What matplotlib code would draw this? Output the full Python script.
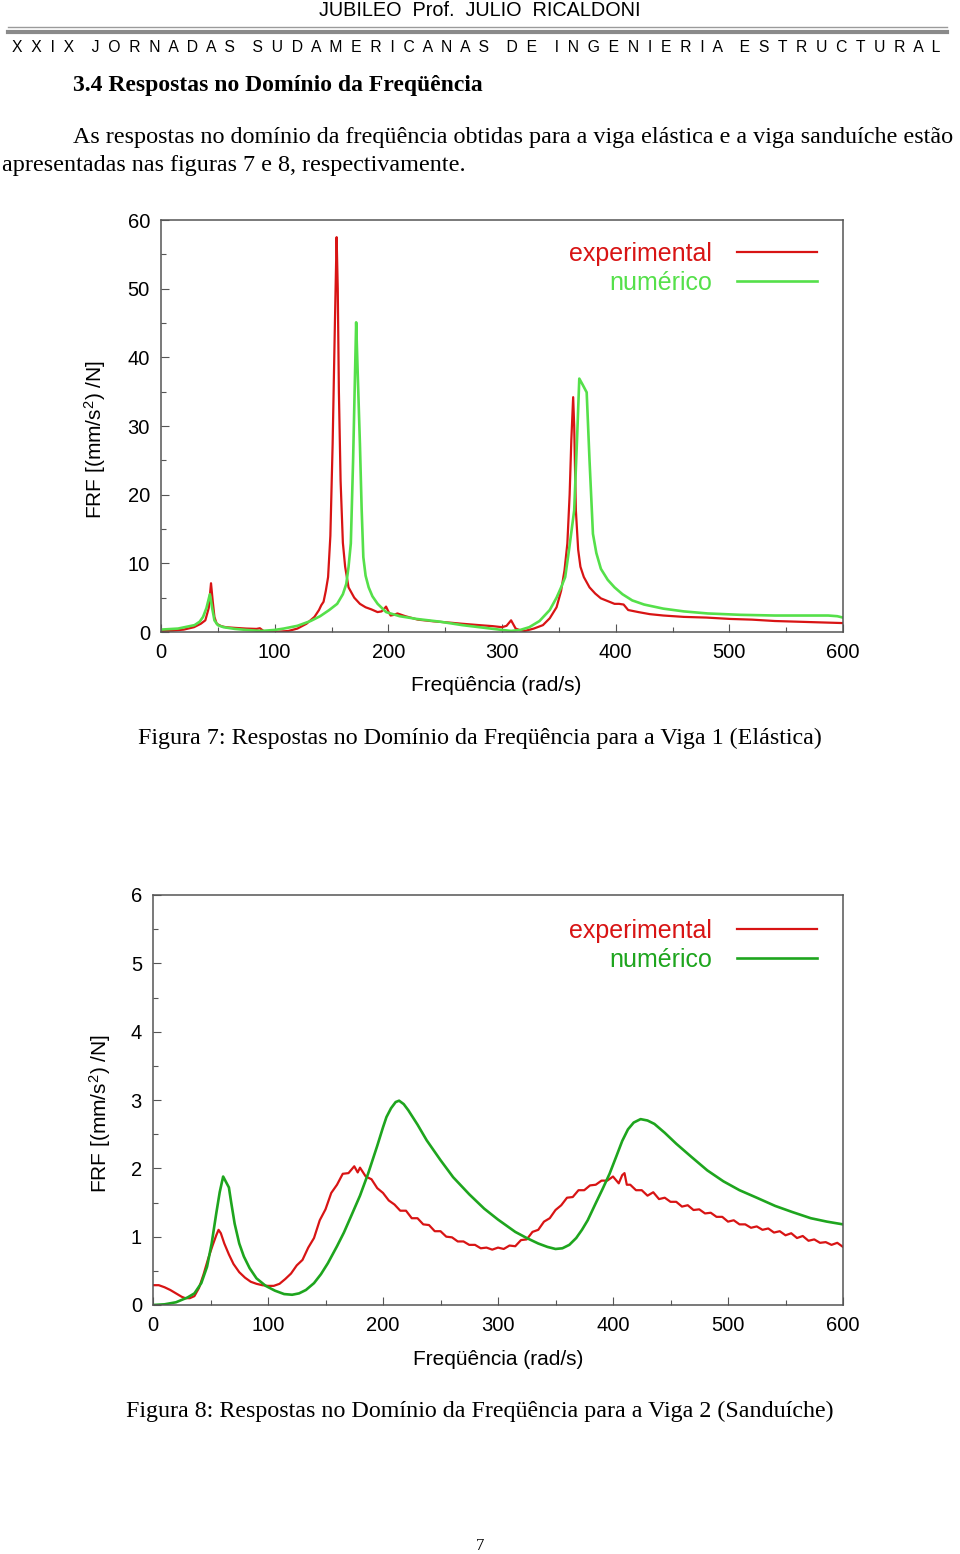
import numpy as np
import matplotlib
matplotlib.use("Agg")
import matplotlib.pyplot as plt
from matplotlib.ticker import MultipleLocator

plt.rcParams['font.family'] = ['Liberation Sans', 'DejaVu Sans']
plt.rcParams['mathtext.fontset'] = 'custom'
plt.rcParams['mathtext.rm'] = 'Liberation Sans'
plt.rcParams['mathtext.it'] = 'Liberation Sans'

# --- figura 7 (viga elastica) ---
f7_exp_x = [0, 10, 20, 29, 35, 39, 42, 44, 45.5, 47, 49, 53, 57, 65, 75, 84, 87, 89, 91, 100,
            112, 120, 128, 135, 139, 141, 143, 145, 147, 149, 151, 153, 154.5, 155.5, 156.5, 158,
            160, 162, 165, 170, 175, 180, 185, 190.5, 194, 196, 198, 200, 202, 205, 208, 215,
            226, 240, 255, 265, 280, 292, 300, 304, 308, 310, 312, 316, 320, 328, 336, 342, 348,
            352, 355, 357.5, 359.5, 361, 362.6, 363.5, 365, 367, 369, 372, 377, 382, 387, 393,
            399, 403, 407, 411, 420, 430, 442, 460, 480, 501, 520, 540, 560, 580, 600]
f7_exp_y = [0.15, 0.2, 0.35, 0.7, 1.2, 1.7, 3.5, 7.1, 4.5, 2.2, 1.2, 0.85, 0.7, 0.6, 0.5, 0.45, 0.55,
            0.3, 0.05, 0.0, 0.15, 0.5, 1.2, 2.2, 3.2, 3.9, 4.4, 6.0, 8.0, 14, 27.4, 45, 57.5, 50,
            35, 22, 13, 9.5, 6.5, 5.0, 4.1, 3.6, 3.3, 2.9, 3.0, 3.3, 3.7, 3.0, 2.4, 2.5, 2.7, 2.3,
            1.8, 1.55, 1.35, 1.2, 1.0, 0.85, 0.7, 0.9, 1.7, 1.1, 0.5, 0.25, 0.15, 0.5, 1.0, 2.0,
            3.6, 6.0, 9.0, 12.9, 20, 28, 34.2, 30, 17.7, 12, 9.5, 8.0, 6.5, 5.6, 4.9, 4.5, 4.1,
            4.1, 4.0, 3.2, 2.9, 2.6, 2.4, 2.2, 2.1, 1.9, 1.8, 1.6, 1.5, 1.4, 1.3]

f7_num_x = [0, 15, 29.5, 34, 37, 40, 43, 45, 47, 50, 55, 65, 75, 88, 100, 108, 120, 131.6, 140,
            148, 155, 160, 163, 165, 167, 169, 171.7, 173, 175, 176.5, 178, 180, 182.7, 186,
            190.6, 198, 210, 225, 245.6, 265, 285, 300, 308, 316, 324, 333, 342, 348, 352,
            355.6, 359, 363.5, 366, 368, 371, 374.5, 377, 380, 383, 387, 393, 399, 406, 414.6,
            425, 442, 460, 481, 510, 540, 570, 587, 595, 600]
f7_num_y = [0.35, 0.5, 1.0, 1.5, 2.2, 3.5, 5.5, 3.5, 1.7, 1.0, 0.7, 0.45, 0.3, 0.15, 0.3, 0.5,
            0.9, 1.6, 2.3, 3.2, 4.1, 5.5, 7.0, 9.5, 12.9, 25, 45.1, 38, 27.4, 18, 10.9, 8.2, 6.5,
            5.2, 4.1, 2.9, 2.3, 1.9, 1.5, 1.0, 0.6, 0.3, 0.15, 0.3, 0.7, 1.6, 3.2, 5.0, 6.5, 8,
            12, 17.7, 28, 36.9, 36.0, 34.9, 25, 14.3, 11.5, 9.2, 7.6, 6.5, 5.5, 4.6, 4.0, 3.4,
            3.0, 2.7, 2.5, 2.4, 2.4, 2.4, 2.3, 2.1]

# --- figura 8 (viga sanduiche) ---
f8_exp_x = [0, 5, 10, 15, 20, 25, 28, 32, 36, 40, 44, 48, 52, 55, 57, 59, 62, 66, 70, 75, 80, 85,
            90, 95, 100, 105, 110, 115,
            120, 125, 130, 135, 140, 145, 150, 155, 160, 165, 170, 175, 178, 180, 185, 190, 195,
            200, 205, 210, 215, 220, 225, 230, 235, 240, 245, 250, 255, 260, 265, 270, 275, 280,
            285, 290, 295, 300, 305, 310, 315, 320, 325, 330, 335, 340, 345, 350, 355, 360, 365,
            370, 375, 380, 385, 390, 395, 400, 405, 408, 410, 412, 415, 420, 425, 430, 435, 440,
            445, 450, 455, 460, 465, 470, 475, 480, 485, 490, 495, 500, 505, 510, 515, 520, 525,
            530, 535, 540, 545, 550, 555, 560, 565, 570, 575, 580, 585, 590, 595, 600]
f8_exp_y = [0.29, 0.29, 0.26, 0.22, 0.17, 0.12, 0.10, 0.10, 0.13, 0.25, 0.45, 0.68, 0.88, 1.02,
            1.10, 1.05, 0.90, 0.74, 0.60, 0.48, 0.40, 0.34, 0.31, 0.29, 0.28, 0.28, 0.31, 0.38,
            0.46, 0.58, 0.66, 0.84, 0.98, 1.24, 1.40, 1.64, 1.76, 1.92, 1.93, 2.03, 1.94, 2.01,
            1.88, 1.84, 1.71, 1.64, 1.53, 1.47, 1.38, 1.38, 1.27, 1.27, 1.18, 1.17, 1.08, 1.08,
            1.00, 0.99, 0.93, 0.93, 0.88, 0.88, 0.83, 0.84, 0.81, 0.84, 0.82, 0.87, 0.86, 0.95,
            0.96, 1.07, 1.10, 1.22, 1.27, 1.39, 1.46, 1.57, 1.58, 1.68, 1.68, 1.75, 1.76, 1.82,
            1.82, 1.88, 1.78, 1.90, 1.93, 1.76, 1.76, 1.68, 1.68, 1.60, 1.65, 1.55, 1.57, 1.51,
            1.51, 1.44, 1.46, 1.39, 1.40, 1.34, 1.35, 1.29, 1.29, 1.22, 1.24, 1.18, 1.18, 1.13,
            1.15, 1.10, 1.12, 1.06, 1.08, 1.02, 1.05, 0.98, 1.01, 0.94, 0.96, 0.91, 0.92, 0.88,
            0.91, 0.85]

f8_num_x = [0, 10, 20, 30, 36, 42, 47, 51, 55, 58, 61, 66, 68, 71, 75, 79, 84, 90, 98, 106, 114,
            121, 127, 133, 140, 146, 152, 160, 166, 172, 180, 187, 195, 200, 203, 207, 211, 214,
            218, 222, 230, 238, 250, 261, 275, 288, 300, 315, 325, 335, 343, 350, 356, 362, 368,
            373, 378, 385, 391, 397, 403, 408, 413, 418, 424, 430, 436, 445, 455, 468, 482, 496,
            510, 525, 541, 556, 572, 586, 600]
f8_num_y = [0.0, 0.01, 0.04, 0.11, 0.17, 0.32, 0.56, 0.9, 1.34, 1.65, 1.88, 1.72, 1.5, 1.19, 0.9,
            0.71, 0.54, 0.39, 0.28, 0.21, 0.16, 0.15, 0.17, 0.22, 0.32, 0.45, 0.61, 0.86, 1.06,
            1.29, 1.6, 1.92, 2.33, 2.6, 2.75, 2.88, 2.97, 2.99, 2.94, 2.85, 2.64, 2.41, 2.12, 1.87,
            1.62, 1.41, 1.25, 1.07, 0.98, 0.9, 0.85, 0.82, 0.83, 0.88, 0.98, 1.1, 1.24, 1.49, 1.7,
            1.92, 2.18, 2.4, 2.57, 2.67, 2.72, 2.7, 2.65, 2.52, 2.36, 2.17, 1.97, 1.81, 1.68, 1.57,
            1.45, 1.36, 1.27, 1.22, 1.18]

RED = '#d81414'
GREEN_LIGHT = '#55e04a'
GREEN_DARK = '#1ea51e'
W, H = 960, 1554

fig = plt.figure(figsize=(W / 100, H / 100), dpi=100)


def ptxt(x, y, s, **kw):
    fig.text(x / W, 1 - y / H, s, **kw)


def hline(x0, x1, y, lw, color):
    fig.add_artist(plt.Line2D([x0 / W, x1 / W], [1 - y / H, 1 - y / H], lw=lw, color=color))


# cabecalho
ptxt(480, 10, 'JUBILEO  Prof.  JULIO  RICALDONI', ha='center', va='center', fontsize=14.3,
     family=['Liberation Sans Narrow', 'Liberation Sans'])
hline(8, 947, 27, 1.0, '#9a9a9a')
hline(8, 947, 31.5, 3.0, '#8a8a8a')
jornada = '    '.join('  '.join(w) for w in 'XXIX JORNADAS SUDAMERICANAS DE INGENIERIA ESTRUCTURAL'.split())
ptxt(12, 47, jornada, ha='left', va='center', fontsize=11.3)

serif = ['Liberation Serif', 'DejaVu Serif']
ptxt(73, 86, '3.4 Respostas no Domínio da Freqüência', ha='left', va='center', fontsize=17,
     fontweight='bold', family=serif)
ptxt(73, 138, 'As respostas no domínio da freqüência obtidas para a viga elástica e a viga sanduíche estão',
     ha='left', va='center', fontsize=17.4, family=serif)
ptxt(2, 165, 'apresentadas nas figuras 7 e 8, respectivamente.', ha='left', va='center', fontsize=17.4,
     family=serif)
ptxt(480, 738, 'Figura 7: Respostas no Domínio da Freqüência para a Viga 1 (Elástica)', ha='center',
     va='center', fontsize=17.3, family=serif)
ptxt(480, 1411, 'Figura 8: Respostas no Domínio da Freqüência para a Viga 2 (Sanduíche)', ha='center',
     va='center', fontsize=17.3, family=serif)
ptxt(480, 1546, '7', ha='center', va='center', fontsize=12, family=serif)


def make_axes(box, ymax, ymaj, xexp, yexp, xnum, ynum, gnum, ylab_x, xlab_x, xlab_y, leg_y):
    l, r, t, b = box
    ax = fig.add_axes([l / W, 1 - b / H, (r - l) / W, (b - t) / H])
    ax.plot(xexp, yexp, color=RED, lw=1.6, label='experimental')
    ax.plot(xnum, ynum, color=gnum, lw=1.9, label='numérico')
    ax.set_xlim(0, 600)
    ax.set_ylim(0, ymax)
    ax.xaxis.set_major_locator(MultipleLocator(100))
    ax.xaxis.set_minor_locator(MultipleLocator(50))
    ax.yaxis.set_major_locator(MultipleLocator(ymaj))
    ax.yaxis.set_minor_locator(MultipleLocator(ymaj / 2))
    ax.tick_params(which='both', direction='in', top=False, right=False, color='#555555',
                   labelsize=14.5, width=0.8)
    ax.tick_params(which='major', length=6, pad=8)
    ax.tick_params(which='minor', length=3.5)
    for s in ax.spines.values():
        s.set_color('#555555')
        s.set_linewidth(1.1)
    ax.set_xlabel('Freqüência (rad/s)', fontsize=15)
    ax.set_ylabel('FRF [(mm/s$^2$) /N]', fontsize=15)
    ax.yaxis.set_label_coords(ylab_x, 0.466)
    ax.xaxis.set_label_coords(xlab_x, xlab_y)
    ax.legend(loc='upper right', bbox_to_anchor=(0.962, leg_y), frameon=False, markerfirst=False,
              labelcolor='linecolor', fontsize=18, handlelength=3.2, handletextpad=1.0,
              labelspacing=0.2, borderpad=0, borderaxespad=0)
    return ax


ax1 = make_axes((161, 843, 220, 632), 60, 10, f7_exp_x, f7_exp_y, f7_num_x, f7_num_y,
                GREEN_LIGHT, -0.078, 0.491, -0.107, 0.947)
ax2 = make_axes((153, 843, 895, 1305), 6, 1, f8_exp_x, f8_exp_y, f8_num_x, f8_num_y,
                GREEN_DARK, -0.058, 0.5, -0.11, 0.942)

fig.savefig('out.png', dpi=100)
